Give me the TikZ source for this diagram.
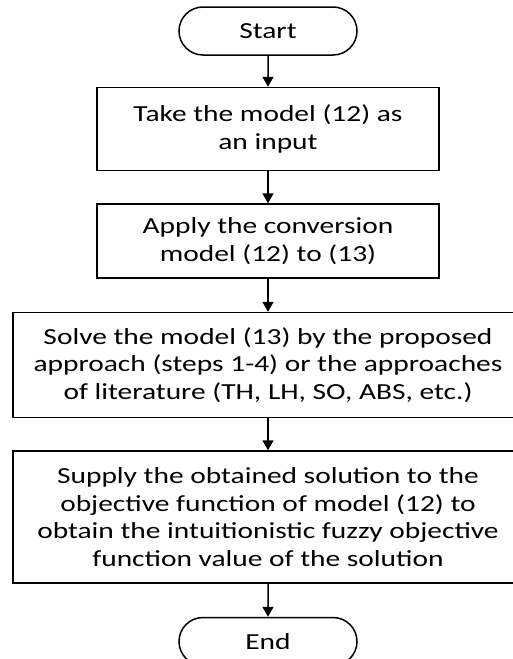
\documentclass[tikz,border=0pt]{standalone}
\usepackage{fontspec}
\setmainfont{Carlito}[FakeStretch=1.28]
\usetikzlibrary{shapes,arrows.meta,positioning}

\begin{document}
\begin{tikzpicture}[
    node distance=32pt,
    every node/.style={font=\fontsize{23}{27.7}\selectfont, inner sep=0pt},
    term/.style={rounded rectangle, draw, line width=1.5pt, minimum width=178pt, minimum height=48pt},
    proc/.style={rectangle, draw, line width=1.5pt, align=center, minimum width=342pt},
    flow/.style={-{Triangle[width=11pt,length=10pt]}, line width=1.5pt}
]
    \useasboundingbox (0,0) rectangle (512pt,-659pt);

    % Terminals and steps
    \node[term] (start) at (268pt,-31pt) {Start};
    \node[proc, minimum height=83pt, below=31pt of start] (input) {Take the model (12) as\\an input};
    \node[proc, minimum height=74pt, below=of input] (convert) {Apply the conversion\\model (12) to (13)};
    \node[proc, minimum height=105pt, minimum width=510pt, below=33pt of convert] (solve) {Solve the model (13) by the proposed\\approach (steps 1-4) or the approaches\\of literature (TH, LH, SO, ABS, etc.)};
    \node[proc, minimum height=132pt, minimum width=510pt, below=of solve] (supply) {Supply the obtained solution to the\\objective function of model (12) to\\obtain the intuitionistic fuzzy objective\\function value of the solution};
    \node[term, below=33pt of supply] (end) {End};

    % Flow
    \draw[flow] (start) -- (input);
    \draw[flow] (input) -- (convert);
    \draw[flow] (convert) -- (solve);
    \draw[flow] (solve) -- (supply);
    \draw[flow] (supply) -- (end);
\end{tikzpicture}
\end{document}
